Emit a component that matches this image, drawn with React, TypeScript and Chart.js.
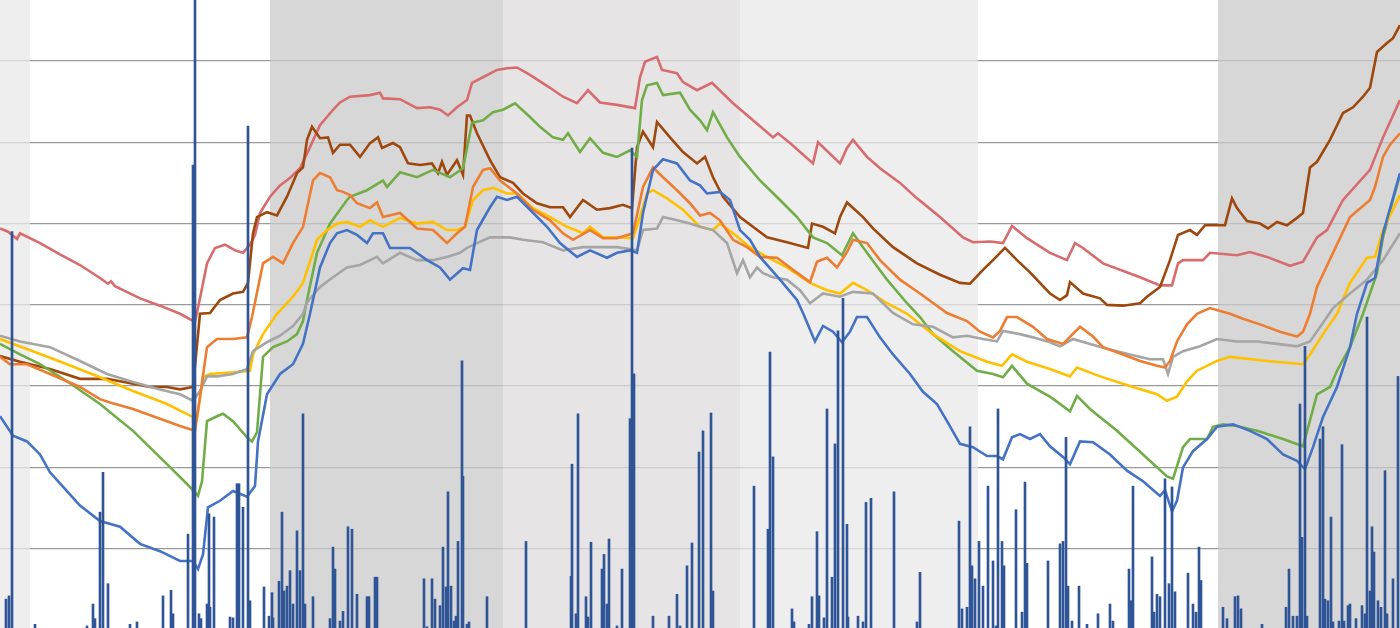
import React, { useEffect, useRef } from "react";
import { Chart, registerables } from "chart.js";

Chart.register(...registerables);

// x: day index (0..700), y: value (gridlines every 10)
const X_MIN = 0;
const X_MAX = 700;
const Y_MIN = 0.25;
const Y_MAX = 77.5;
const GRID_STEP = 10;

// background period bands
const bandStarts = [0, 15, 135, 251.5, 370, 489, 609];
const bandEnds = [15, 135, 251.5, 370, 489, 609, 700];
const bandShades = ["light", "none", "dark", "mid", "light", "none", "dark"];
const shadeColors: Record<string, string | null> = {
  none: null,
  light: "rgba(234,232,233,0.75)",
  mid: "rgba(222,219,220,0.75)",
  dark: "rgba(203,201,202,0.75)",
};

const seriesRed: number[][] = [[0,49.4],[4,49.0],[8.5,48.1],[10,48.8],[20,47.6],[30,46.2],[40,44.9],[50,43.3],[54,42.6],[55.5,42.9],[57.5,42.3],[70,40.8],[80,39.9],[90,38.9],[97.5,37.9],[100,40.8],[103.5,45.1],[107.5,47.0],[112.5,47.4],[117.5,46.7],[121.5,46.4],[125,47.4],[127.5,48.6],[130,51.3],[135,53.3],[140,54.7],[145,55.6],[150,56.8],[155,59.4],[160,62.1],[166.5,64.0],[170,64.9],[175,65.6],[185,65.8],[190,66.1],[191.5,65.4],[200,65.3],[208.5,64.2],[215,64.3],[220,64.0],[224,63.3],[228.5,64.3],[233.5,65.2],[236,67.3],[241.5,68.0],[248.5,68.9],[253.5,69.1],[258.5,69.2],[265,68.3],[275,66.7],[281.5,65.6],[288.5,64.8],[294,66.4],[300,64.9],[308.5,64.6],[317.5,64.2],[320,68.0],[322.5,69.9],[328.5,70.5],[331,68.9],[338.5,68.5],[341.5,67.4],[348.5,66.4],[356,67.3],[366.5,64.8],[376.5,62.7],[386.5,60.6],[389,61.1],[395,59.9],[406.5,57.4],[409,60.0],[420,57.4],[423.5,59.3],[426.5,60.3],[433.5,58.2],[440,56.8],[450,55.0],[458.5,53.1],[470,50.8],[481.5,48.3],[486.5,47.7],[495,47.8],[501.5,47.6],[506,49.7],[513.5,48.2],[525,46.4],[533.5,45.5],[537.5,47.6],[541.5,47.0],[551.5,45.1],[570,43.4],[580,42.4],[586,42.4],[589,45.1],[591.5,45.5],[601.5,45.5],[605,46.4],[618.5,46.1],[625,46.5],[633.5,45.9],[645,44.8],[651.5,45.3],[658.5,48.3],[663.5,49.2],[671.5,52.9],[685,56.6],[691.5,60.6],[700,65.2]];

const seriesBrown: number[][] = [[0,33.7],[10,33.0],[25,32.1],[40,30.9],[53.5,30.9],[66.5,30.3],[75,29.9],[83.5,29.9],[90,29.6],[96.5,29.9],[100,38.9],[105,39.0],[110,40.6],[116.5,41.4],[121.5,41.6],[124,42.7],[126.5,48.8],[128.5,50.8],[133.5,51.4],[138.5,51.0],[143.5,53.3],[148.5,56.2],[151.5,56.9],[153.5,60.3],[156,61.9],[160,60.5],[164,60.6],[166.5,58.7],[170,59.7],[175,59.7],[180,58.2],[185,59.9],[189,60.6],[191,59.3],[196.5,59.9],[200,59.4],[204,57.4],[210,57.2],[216,57.4],[219,56.2],[221,57.6],[223.5,56.0],[228.5,57.8],[231.5,56.0],[233.5,63.3],[235,63.3],[238.5,61.1],[245,57.8],[250,55.7],[256.5,55.0],[261.5,53.7],[268.5,52.5],[275,52.0],[281.5,52.0],[285,50.8],[291.5,52.9],[298.5,51.7],[305,51.9],[311.5,52.3],[316,51.9],[318.5,59.4],[321.5,61.3],[326.5,59.4],[328.5,62.5],[335,60.6],[341.5,58.8],[348.5,57.4],[352.5,58.2],[356.5,55.7],[361.5,53.3],[370,50.8],[383.5,48.3],[393.5,47.7],[404,47.0],[406,50.0],[411.5,49.6],[417.5,48.8],[420,50.8],[423.5,52.6],[431.5,50.8],[436.5,49.4],[446.5,47.1],[458.5,45.1],[470,43.7],[480,42.7],[485,42.6],[491.5,44.3],[496.5,45.5],[502.5,47.0],[508.5,45.5],[515,44.0],[525,41.4],[530,40.6],[533.5,41.2],[535,42.8],[541.5,41.4],[550,40.8],[553.5,40.0],[561.5,39.9],[570,40.2],[573.5,41.0],[580,42.2],[585,45.5],[589,48.6],[595,49.2],[598.5,48.6],[602.5,49.8],[612.5,49.8],[616,53.1],[618.5,51.9],[623.5,50.3],[630,50.0],[634,49.4],[638.5,50.2],[643.5,49.8],[648.5,50.7],[651.5,51.3],[655,56.9],[658.5,57.6],[665,60.3],[671.5,63.6],[676.5,64.3],[681.5,65.6],[685,66.7],[688.5,71.1],[693.5,72.2],[696.5,72.8],[700,74.4]];

const seriesOrange: number[][] = [[0,33.6],[5,32.7],[13.5,32.7],[25,31.5],[40,29.9],[50,28.4],[55,28.0],[66.5,27.2],[80,26.0],[90,25.1],[97.5,24.5],[100,28.7],[103.5,34.8],[108.5,35.8],[116.5,35.8],[123.5,36.0],[126,38.5],[131.5,45.1],[136.5,45.9],[141.5,45.1],[146.5,47.6],[151.5,49.6],[156.5,55.3],[160,56.2],[165,55.7],[168.5,54.1],[171.5,53.9],[175,53.5],[178.5,52.5],[185,51.9],[188.5,52.6],[191.5,50.8],[200,51.3],[208.5,49.4],[216.5,49.2],[223.5,47.6],[228.5,48.8],[232.5,49.6],[236.5,54.5],[241.5,56.6],[245,56.8],[250,55.3],[258.5,53.7],[266.5,51.7],[275,50.4],[281.5,48.8],[286.5,48.0],[295,49.2],[301.5,48.2],[308.5,48.2],[316.5,48.8],[321.5,54.5],[326.5,56.9],[331.5,55.7],[338.5,54.1],[345,52.5],[350,51.0],[355,51.3],[360,50.4],[366.5,48.0],[373.5,47.1],[380,45.9],[388.5,45.8],[396.5,44.3],[405,42.8],[408.5,45.3],[413.5,45.8],[418.5,44.6],[423.5,46.5],[426.5,48.0],[433.5,47.6],[440,45.5],[450,43.1],[460,41.4],[473.5,39.0],[483.5,38.0],[490,36.7],[496.5,36.0],[500,36.8],[503.5,38.5],[508.5,38.5],[516.5,37.3],[523.5,35.8],[531.5,35.2],[540,37.3],[546.5,36.1],[551.5,34.8],[561.5,33.9],[570,33.1],[578.5,32.5],[582.5,32.3],[585,33.1],[588.5,35.5],[593.5,37.6],[598.5,38.9],[605,39.6],[615,38.9],[621.5,38.3],[630,37.6],[640,36.7],[648.5,36.1],[651.5,36.7],[655,38.9],[658.5,42.2],[666.5,46.4],[675,50.8],[685,52.9],[687.5,54.5],[691.5,58.2],[695,59.7],[700,61.1]];

const seriesGreen: number[][] = [[0,35.2],[10,33.9],[20,32.7],[33.5,30.6],[50,27.8],[66.5,24.5],[83.5,20.4],[95,17.6],[99,16.5],[101,18.3],[103.5,25.7],[108.5,26.3],[111.5,26.6],[116.5,25.7],[123.5,23.7],[126,23.2],[128.5,24.3],[131.5,33.6],[136.5,34.8],[143.5,35.5],[148.5,36.4],[151.5,38.0],[153.5,40.6],[158.5,46.4],[165,50.0],[170,51.7],[173.5,52.9],[175,53.3],[183.5,54.1],[191.5,55.3],[193.5,54.5],[200,56.3],[208.5,55.7],[216.5,56.6],[225,55.7],[231.5,56.8],[236,62.4],[241.5,62.7],[246.5,63.7],[251.5,64.0],[257.5,64.8],[265,63.1],[270,61.9],[276.5,60.6],[281.5,60.3],[284,61.1],[290,58.8],[295,60.5],[301.5,58.7],[308.5,58.2],[315,59.0],[318.5,58.2],[321,65.2],[323.5,67.0],[328.5,67.3],[331.5,65.8],[340,66.1],[345,64.0],[350,62.7],[353.5,61.5],[356.5,63.7],[363.5,60.6],[370,58.2],[380,55.3],[390,52.9],[398.5,50.8],[406.5,48.3],[413.5,47.6],[421,46.1],[426.5,48.8],[433.5,46.4],[443.5,43.1],[453.5,40.2],[460,38.5],[466.5,36.4],[476.5,34.3],[488.5,31.9],[496.5,31.5],[501.5,31.1],[506,32.5],[513.5,30.3],[520,29.4],[525,28.7],[535,26.9],[538.5,28.8],[545,27.2],[558.5,24.5],[571.5,21.6],[583.5,18.9],[586.5,18.6],[591.5,22.5],[595,23.5],[603.5,23.5],[606.5,25.0],[611.5,25.3],[618.5,25.1],[628.5,24.5],[641.5,23.5],[651.5,22.6],[658.5,29.0],[665,29.9],[668.5,31.9],[675,34.8],[681.5,38.9],[688.5,43.9],[691.5,48.3],[696.5,52.9],[700,56.0]];

const seriesYellow: number[][] = [[0,35.8],[16.5,34.3],[33.5,32.7],[50,31.1],[66.5,29.4],[83.5,27.8],[96.5,26.2],[98.5,26.1],[101.5,31.1],[105,31.5],[116.5,31.7],[125,31.9],[126.5,33.9],[131.5,36.4],[138.5,38.9],[146.5,41.0],[151.5,42.7],[158.5,48.0],[163.5,49.2],[168.5,50.0],[173.5,50.2],[180,49.6],[185,50.4],[191.5,49.6],[200,50.7],[208.5,50.0],[216.5,50.2],[223.5,49.2],[228.5,49.2],[232.5,49.6],[236.5,52.9],[241.5,54.1],[246.5,54.4],[253.5,53.7],[258.5,53.7],[266.5,51.9],[275,50.8],[283.5,49.6],[291.5,48.8],[295,49.6],[301.5,48.3],[308.5,48.3],[316.5,48.2],[320,50.8],[323.5,53.7],[326.5,54.1],[333.5,53.1],[341.5,51.7],[350,49.6],[356.5,49.2],[360,50.0],[366.5,48.8],[375,47.1],[383.5,45.9],[393.5,44.6],[405,42.7],[413.5,41.8],[420,41.4],[426.5,42.7],[433.5,41.8],[443.5,40.2],[453.5,38.9],[466.5,36.4],[480,34.3],[493.5,33.0],[501,32.5],[506,33.9],[513.5,33.0],[525,32.1],[535,31.2],[538.5,32.3],[550,31.2],[566.5,29.9],[578.5,29.0],[583.5,28.2],[588.5,28.7],[593.5,30.6],[598.5,31.9],[608.5,33.1],[615,33.6],[633.5,33.1],[651.5,32.7],[655,33.9],[661.5,36.4],[668.5,38.9],[675,42.7],[683.5,45.8],[687.5,45.9],[691.5,49.2],[700,53.5]];

const seriesGray: number[][] = [[0,36.2],[10,35.5],[25,34.8],[40,33.1],[53.5,31.5],[66.5,30.5],[80,29.6],[90,29.0],[96.5,28.2],[100,29.4],[103.5,31.2],[108.5,31.2],[116.5,31.5],[123.5,32.1],[126.5,34.3],[133.5,35.4],[140,36.2],[146.5,37.4],[151.5,38.9],[153.5,40.3],[160,42.2],[166.5,43.4],[173.5,44.6],[180,44.9],[188.5,45.9],[191.5,45.1],[200,46.4],[208.5,45.5],[216.5,45.5],[223.5,45.9],[230,46.4],[233.5,47.0],[238.5,47.6],[245,48.3],[255,48.3],[261.5,48.0],[271.5,47.7],[281.5,46.7],[291.5,47.1],[298.5,47.1],[308.5,47.1],[318.5,46.7],[321.5,49.2],[328.5,49.4],[331.5,50.8],[338.5,50.4],[345,50.0],[350,49.6],[356.5,49.2],[363.5,47.6],[368.5,43.9],[371.5,45.5],[375,43.4],[378.5,44.6],[381.5,43.9],[386.5,43.4],[393.5,43.1],[400,41.8],[405,40.2],[411.5,41.4],[420,41.0],[426.5,41.6],[436.5,41.4],[446.5,39.0],[456.5,37.6],[466.5,37.3],[476.5,36.0],[483.5,36.2],[491.5,35.8],[498.5,35.5],[501.5,36.8],[510,36.4],[516.5,36.0],[525,35.4],[530,34.9],[536.5,35.8],[545,35.2],[553.5,34.6],[565,33.9],[575,33.3],[581.5,33.3],[584,31.5],[586.5,33.6],[591.5,34.3],[600,34.9],[608.5,35.8],[618.5,35.5],[628.5,35.5],[638.5,35.2],[648.5,34.9],[655,35.5],[663.5,38.5],[666.5,39.6],[675,41.4],[683.5,43.1],[691.5,45.5],[700,48.8]];

const seriesBlue: number[][] = [[0,26.3],[6.5,23.9],[13.5,23.2],[20,21.6],[25,19.4],[33.5,17.1],[40,15.3],[50,13.4],[60,12.7],[70,10.6],[80,9.7],[90,8.5],[96.5,8.5],[99,7.5],[101.5,9.3],[104,15.1],[110,15.9],[116.5,17.1],[123.5,16.4],[127.5,17.7],[129,23.2],[133.5,29.0],[140,31.5],[146.5,32.7],[151.5,35.2],[155,38.9],[156.5,40.6],[160,44.6],[165,47.6],[168.5,48.8],[173.5,49.2],[178.5,48.6],[183.5,47.6],[186.5,48.8],[191.5,48.8],[195,47.0],[205,47.0],[213.5,45.5],[220,44.6],[225,43.1],[231.5,44.5],[235,44.3],[238.5,49.2],[245,52.0],[248.5,53.3],[253.5,52.9],[258.5,53.3],[265,51.7],[273.5,49.6],[280,47.6],[288.5,45.9],[295,46.7],[303.5,45.8],[308.5,46.4],[315,46.7],[318.5,46.4],[321.5,51.3],[326.5,56.6],[331.5,57.9],[338.5,57.4],[345,55.3],[350,54.7],[353.5,53.7],[360,53.9],[365,52.9],[370,49.2],[375,48.0],[380,45.9],[390,43.1],[398.5,40.6],[401.5,39.0],[407.5,35.5],[411.5,37.4],[416.5,36.7],[421,35.4],[425,36.7],[428.5,38.5],[433.5,38.5],[440,36.0],[446.5,33.9],[455,31.5],[461.5,29.3],[468.5,27.8],[473.5,25.7],[480,22.9],[486.5,22.5],[493.5,21.4],[498.5,21.4],[501.5,21.0],[506,23.7],[510,24.1],[515,23.5],[520,24.1],[525,22.6],[531.5,21.3],[535,20.4],[540,23.2],[546.5,23.1],[555,21.6],[563.5,19.6],[571.5,18.3],[580,16.5],[582.5,17.2],[586,14.6],[588.5,15.9],[591.5,20.0],[596.5,22.0],[603.5,23.5],[608.5,25.0],[616.5,25.3],[625,24.5],[633.5,23.5],[641.5,21.6],[648.5,20.8],[652.5,19.8],[656.5,22.5],[661.5,26.2],[668.5,29.9],[675,34.8],[678.5,38.9],[683.5,42.7],[687.5,43.3],[691.5,48.8],[700,56.2]];

const barValues: number[][] = [[3,3.8],[4.5,4.2],[6,49.0],[17.5,0.7],[43.5,0.5],[46.5,3.2],[47.5,1.4],[50,14.5],[51.5,19.4],[54,5.7],[65,0.7],[68.5,1.0],[81.5,4.2],[85.5,4.9],[86.5,2.0],[94,11.8],[96.5,57.2],[97.5,80],[99.5,2.0],[100.5,1.4],[103.5,3.2],[104.5,14.3],[105,2.8],[107,13.9],[115,1.6],[116.5,1.5],[118.5,18.0],[119.5,18.0],[121.5,15.1],[124,62.0],[125,3.6],[132,5.3],[134.5,1.7],[136,4.6],[136.5,1.5],[139.5,6.0],[141,14.5],[142,4.8],[143.5,5.4],[145,7.3],[146.5,3.2],[148.5,12.2],[150,7.3],[151.5,26.6],[152.5,3.2],[156.5,4.1],[165,1.4],[166.5,10.2],[167.5,7.5],[170,1.1],[171.5,2.3],[174,12.7],[176,12.4],[178.5,4.4],[183.5,4.1],[184.5,4.1],[187.5,6.5],[188.5,6.5],[212,6.3],[213.5,0.4],[216,6.3],[217.5,3.8],[220,3.0],[221.5,10.2],[223,5.3],[224,17.0],[225.5,5.4],[227,1.1],[228,1.7],[229,10.9],[231,33.1],[231.5,18.9],[233.5,0.7],[234.5,1.0],[243.5,4.1],[263,10.9],[285.5,6.6],[286,20.4],[288,2.0],[289,26.6],[293,4.1],[294,1.6],[295.5,10.8],[301,7.5],[302,9.3],[303.5,3.2],[304.5,11.2],[308.5,0.5],[311,7.5],[315,26.0],[316,59.3],[317,31.5],[326.5,1.7],[334.5,1.7],[338.5,4.4],[340,0.5],[343.5,7.9],[346,10.7],[349.5,21.9],[351.5,24.5],[355.5,26.7],[356.5,4.8],[377,17.7],[384,12.4],[385,34.2],[386.5,21.3],[396,2.6],[397,1.0],[404.5,0.7],[406,4.1],[408.5,12.1],[409.5,4.2],[412,1.5],[413.5,27.2],[416,6.5],[417.5,22.9],[419,36.8],[421.5,40.8],[423.5,13.0],[424,1.6],[429,1.7],[431.5,1.0],[433,15.7],[435.5,16.2],[447,17.0],[458.5,1.0],[460,7.1],[479.5,13.4],[481,2.6],[483.5,2.8],[485,25.0],[486,7.9],[487.5,6.3],[489.5,10.9],[491.5,5.4],[494,17.7],[496.5,8.5],[498,0.5],[499,27.2],[501,10.9],[502,7.9],[508,14.8],[511,2.2],[512.5,18.2],[513.5,8.2],[524,8.5],[530,10.6],[531.5,10.9],[533,23.7],[534,5.4],[536,1.1],[539.5,5.4],[543.5,0.7],[549,2.0],[555,3.2],[556.5,1.1],[564.5,7.5],[565.5,3.6],[566.5,17.7],[576,9.0],[577,2.2],[578.5,4.4],[580,4.1],[582.5,18.6],[584.5,5.7],[586,17.6],[587.5,4.7],[594,7.0],[596.5,3.2],[598,2.2],[599.5,10.2],[600.5,6.1],[611.5,2.8],[613.5,1.4],[617.5,4.1],[619,4.2],[620.5,2.6],[631,0.7],[643,2.8],[644.5,7.5],[646.5,1.7],[648.5,1.7],[650,27.8],[651,11.4],[652.5,34.9],[653.5,1.7],[660,23.5],[661.5,25.0],[662.5,3.8],[664,3.6],[665.5,13.9],[666.5,1.0],[669.5,1.1],[671,22.8],[672,1.1],[674,3.0],[675,3.2],[678,1.4],[681,3.0],[682.5,2.0],[683.5,38.5],[685,4.8],[686,12.7],[687,9.6],[689,3.6],[690.5,2.8],[692.5,19.6],[693.5,2.0],[696.5,6.3],[699,31.2]];

const lineSeries = [
  { name: "Blue", data: seriesBlue, color: "#4472c4" },
  { name: "Orange", data: seriesOrange, color: "#ed7d31" },
  { name: "Gray", data: seriesGray, color: "#a5a5a5" },
  { name: "Yellow", data: seriesYellow, color: "#ffc000" },
  { name: "Green", data: seriesGreen, color: "#70ad47" },
  { name: "Brown", data: seriesBrown, color: "#9e480e" },
  { name: "Red", data: seriesRed, color: "#d76b6d" },
];

const toPoints = (arr: number[][]) => arr.map(([x, y]) => ({ x, y }));

const bandPlugin = {
  id: "periodBands",
  beforeDatasetsDraw(chart: any) {
    const { ctx, chartArea, scales } = chart;
    const xs = scales.x;
    ctx.save();
    for (let i = 0; i < bandStarts.length; i++) {
      const color = shadeColors[bandShades[i]];
      if (!color) continue;
      const x0 = xs.getPixelForValue(bandStarts[i]);
      const x1 = xs.getPixelForValue(bandEnds[i]);
      ctx.fillStyle = color;
      ctx.fillRect(x0, chartArea.top, x1 - x0, chartArea.bottom - chartArea.top);
    }
    ctx.restore();
  },
};

export default function App() {
  const canvasRef = useRef<HTMLCanvasElement | null>(null);

  useEffect(() => {
    document.body.style.margin = "0";
    const canvas = canvasRef.current;
    if (!canvas) return;
    const datasets: any[] = [
      {
        type: "bar",
        label: "Volume",
        data: toPoints(barValues),
        backgroundColor: "#2f5597",
        borderWidth: 0,
        barThickness: 2,
        grouped: false,
        order: 0,
      },
      ...lineSeries.map((s) => ({
        type: "line",
        label: s.name,
        data: toPoints(s.data),
        borderColor: s.color,
        backgroundColor: s.color,
        borderWidth: 2.6,
        pointRadius: 0,
        tension: 0,
        fill: false,
        order: 1,
      })),
    ];
    const chart = new Chart(canvas, {
      type: "line",
      data: { datasets },
      options: {
        animation: false,
        responsive: true,
        maintainAspectRatio: false,
        layout: { padding: 0 },
        plugins: { legend: { display: false }, tooltip: { enabled: false } },
        scales: {
          x: { type: "linear", min: X_MIN, max: X_MAX, display: false, offset: false },
          y: {
            type: "linear",
            min: Y_MIN,
            max: Y_MAX,
            border: { display: false },
            ticks: { display: false, stepSize: GRID_STEP },
            grid: {
              drawTicks: false,
              lineWidth: 1.3,
              color: (ctx: any) => {
                const v = ctx.tick ? ctx.tick.value : 0;
                const onStep = Math.abs(v - Math.round(v / GRID_STEP) * GRID_STEP) < 1e-6;
                return onStep && v > 1 && v < Y_MAX - 1 ? "#9a9a9a" : "rgba(0,0,0,0)";
              },
            },
          },
        },
      } as any,
      plugins: [bandPlugin],
    });
    return () => chart.destroy();
  }, []);

  return (
    <div style={{ position: "fixed", left: 0, top: 0, width: 1400, height: 628 }}>
      <canvas ref={canvasRef} />
    </div>
  );
}
